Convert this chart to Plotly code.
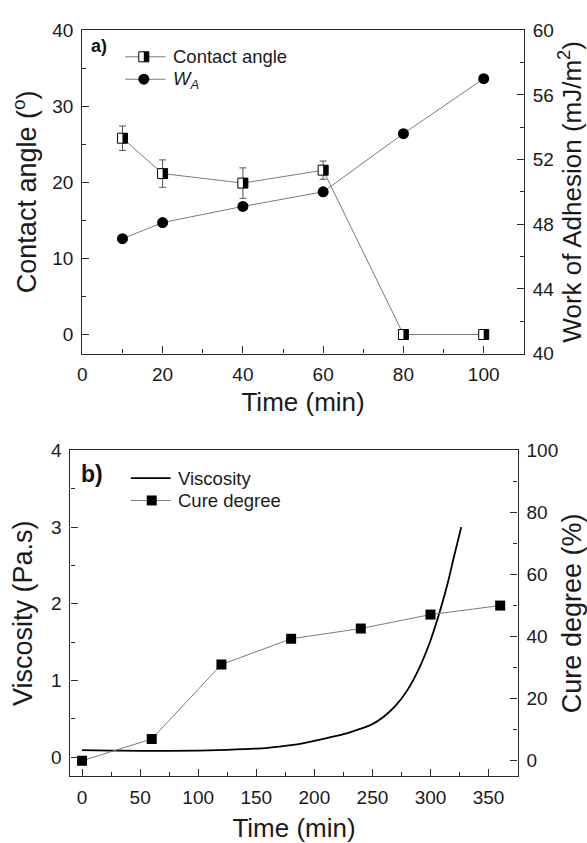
import plotly.graph_objects as go

# ---------------- data ----------------
# panel a
time_a = [10, 20, 40, 60, 80, 100]
contact_angle = [25.8, 21.15, 19.9, 21.6, 0.0, 0.0]
contact_err = [1.6, 1.8, 2.0, 1.2, 0.0, 0.0]
work_adhesion = [47.1, 48.1, 49.1, 50.0, 53.6, 57.0]

# panel b
time_cure = [0, 60, 120, 180, 240, 300, 360]
cure_degree = [0.0, 7.0, 31.0, 39.3, 42.6, 47.1, 50.0]
time_visc = [0, 25, 50, 75, 100, 125, 150, 160, 170, 180, 190, 200, 210, 220, 230,
             240, 250, 260, 270, 280, 290, 300, 310, 315, 320, 326.5]
viscosity = [0.09, 0.085, 0.08, 0.08, 0.085, 0.095, 0.11, 0.12, 0.135, 0.155, 0.18,
             0.21, 0.245, 0.28, 0.32, 0.37, 0.43, 0.53, 0.67, 0.87, 1.15, 1.52, 2.0,
             2.28, 2.6, 3.0]

W, H = 587, 843
FONT = "Liberation Sans, Arial, sans-serif"
AX = "#2a2a2a"
GRAY = "#7a7a7a"
TXT = "#1a1a1a"


def px(x):
    return x / W


def py(y):
    return 1 - y / H


fig = go.Figure()

# ---- panel a traces ----
fig.add_trace(go.Scatter(
    x=time_a, y=contact_angle, xaxis="x", yaxis="y", mode="lines+markers",
    line=dict(color=GRAY, width=1),
    marker=dict(symbol="square", size=10, color="white", line=dict(color="black", width=1)),
    error_y=dict(type="data", array=contact_err, visible=True, color="#555555",
                 thickness=1, width=3.5),
    showlegend=False))
fig.add_trace(go.Scatter(
    x=time_a, y=work_adhesion, xaxis="x", yaxis="y2", mode="lines+markers",
    line=dict(color=GRAY, width=1),
    marker=dict(symbol="circle", size=11, color="black"),
    showlegend=False))

# ---- panel b traces ----
fig.add_trace(go.Scatter(
    x=time_cure, y=cure_degree, xaxis="x2", yaxis="y4", mode="lines+markers",
    line=dict(color=GRAY, width=1),
    marker=dict(symbol="square", size=10, color="black"),
    showlegend=False))
fig.add_trace(go.Scatter(
    x=time_visc, y=viscosity, xaxis="x2", yaxis="y3", mode="lines",
    line=dict(color="black", width=1.8, shape="spline", smoothing=1.0),
    showlegend=False))

shapes = []
# right half black of contact-angle markers
for t, v in zip(time_a, contact_angle):
    shapes.append(dict(type="rect", xref="x", yref="y", xsizemode="pixel", ysizemode="pixel",
                       xanchor=t, yanchor=v, x0=0, x1=5, y0=-5, y1=5,
                       fillcolor="black", line=dict(width=0), layer="above"))

tickfont = dict(family=FONT, size=19, color=TXT)
common = dict(showline=True, linecolor=AX, linewidth=1.3, ticks="inside", ticklen=7,
              tickwidth=1.2, tickcolor=AX, showgrid=False, zeroline=False,
              tickfont=tickfont)


def minor(d):
    return dict(dtick=d, ticks="inside", ticklen=4, tickwidth=1.2, tickcolor=AX, showgrid=False)


layout = dict(
    width=W, height=H, margin=dict(l=0, r=0, t=0, b=0),
    paper_bgcolor="white", plot_bgcolor="white",
    xaxis=dict(domain=[px(78), px(523.3)], anchor="y", range=[0, 110], dtick=20,
               minor=minor(10), mirror=True, ticklabelstandoff=4,
               title=dict(text="Time (min)", font=dict(family=FONT, size=26, color=TXT),
                          standoff=8), **common),
    yaxis=dict(domain=[py(352.3), py(20.7)], anchor="x", range=[-2.5, 40], dtick=10,
               minor=minor(5), ticklabelstandoff=4,
               title=dict(text="Contact angle (<sup>o</sup>)",
                          font=dict(family=FONT, size=27, color=TXT), standoff=7),
               **common),
    yaxis2=dict(overlaying="y", side="right", anchor="x", range=[40, 60], dtick=4,
                minor=minor(2), ticklabelstandoff=4,
                title=dict(text="Work of Adhesion (mJ/m<sup>2</sup>)",
                           font=dict(family=FONT, size=26, color=TXT), standoff=10),
                **common),
    xaxis2=dict(domain=[px(66), px(517)], anchor="y3", range=[-10, 375], dtick=50,
                minor=minor(25), mirror=True, ticklabelstandoff=4,
                title=dict(text="Time (min)", font=dict(family=FONT, size=26, color=TXT),
                           standoff=12), **common),
    yaxis3=dict(domain=[py(785.8), py(451.7)], anchor="x2", range=[-0.25, 4], dtick=1,
                minor=minor(0.5), ticklabelstandoff=4,
                title=dict(text="Viscosity (Pa.s)",
                           font=dict(family=FONT, size=27, color=TXT), standoff=10),
                **common),
    yaxis4=dict(overlaying="y3", side="right", anchor="x2", range=[-5, 100], dtick=20,
                minor=minor(10), ticklabelstandoff=4,
                title=dict(text="Cure degree (%)",
                           font=dict(family=FONT, size=27, color=TXT), standoff=10),
                **common),
)

annotations = []
lf = dict(family=FONT, size=18.5, color=TXT)

# ---- legend a ----
annotations.append(dict(text="<b>a)</b>", x=px(85), y=py(37), xref="paper", yref="paper",
                        xanchor="left", yanchor="middle", showarrow=False,
                        font=dict(family=FONT, size=18, color="#111")))
for yy in (48, 71):
    shapes.append(dict(type="line", xref="paper", yref="paper", x0=px(121), x1=px(162),
                       y0=py(yy), y1=py(yy), line=dict(color=GRAY, width=1)))
shapes.append(dict(type="rect", xref="paper", yref="paper", xsizemode="pixel", ysizemode="pixel",
                   xanchor=px(140), yanchor=py(48), x0=-5, x1=5, y0=-5, y1=5,
                   fillcolor="white", line=dict(color="black", width=1)))
shapes.append(dict(type="rect", xref="paper", yref="paper", xsizemode="pixel", ysizemode="pixel",
                   xanchor=px(140), yanchor=py(48), x0=0, x1=5, y0=-5, y1=5,
                   fillcolor="black", line=dict(width=0)))
shapes.append(dict(type="circle", xref="paper", yref="paper", xsizemode="pixel", ysizemode="pixel",
                   xanchor=px(140), yanchor=py(71), x0=-5.5, x1=5.5, y0=-5.5, y1=5.5,
                   fillcolor="black", line=dict(width=0)))
annotations.append(dict(text="Contact angle", x=px(167), y=py(48), xref="paper", yref="paper",
                        xanchor="left", yanchor="middle", showarrow=False, font=lf))
annotations.append(dict(text="<i>W</i><sub><i>A</i></sub>", x=px(167), y=py(72), xref="paper",
                        yref="paper", xanchor="left", yanchor="middle", showarrow=False, font=lf))

# ---- legend b ----
annotations.append(dict(text="<b>b)</b>", x=px(75), y=py(476), xref="paper", yref="paper",
                        xanchor="left", yanchor="middle", showarrow=False,
                        font=dict(family=FONT, size=23, color="#111")))
shapes.append(dict(type="line", xref="paper", yref="paper", x0=px(127), x1=px(167),
                   y0=py(480), y1=py(480), line=dict(color="black", width=1.8)))
shapes.append(dict(type="line", xref="paper", yref="paper", x0=px(127), x1=px(167),
                   y0=py(503), y1=py(503), line=dict(color=GRAY, width=1)))
shapes.append(dict(type="rect", xref="paper", yref="paper", xsizemode="pixel", ysizemode="pixel",
                   xanchor=px(148), yanchor=py(503), x0=-5, x1=5, y0=-5, y1=5,
                   fillcolor="black", line=dict(width=0)))
annotations.append(dict(text="Viscosity", x=px(172), y=py(480), xref="paper", yref="paper",
                        xanchor="left", yanchor="middle", showarrow=False, font=lf))
annotations.append(dict(text="Cure degree", x=px(172), y=py(503), xref="paper", yref="paper",
                        xanchor="left", yanchor="middle", showarrow=False, font=lf))

layout["shapes"] = shapes
layout["annotations"] = annotations
fig.update_layout(**layout)

fig.write_html("out.html")
